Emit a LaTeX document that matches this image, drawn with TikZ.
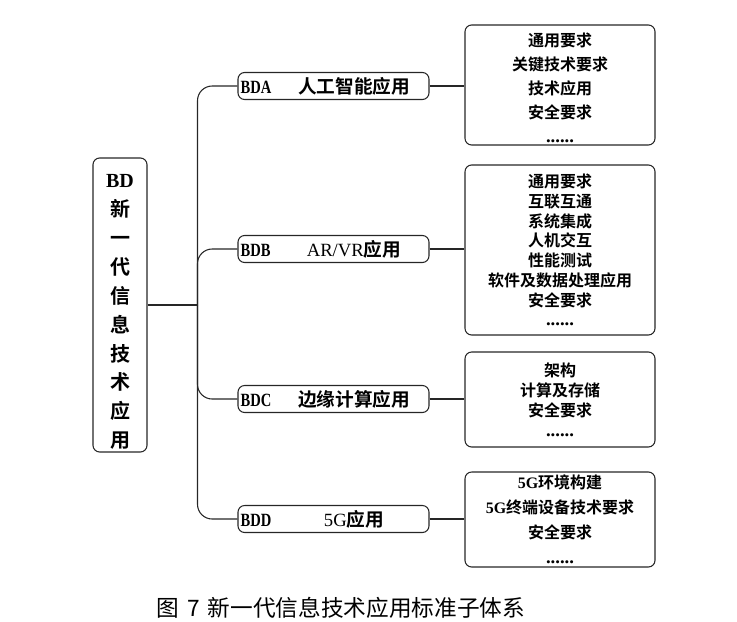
\documentclass[tikz,border=0pt]{standalone}
\usepackage{fontspec}
\usepackage{graphicx}
\setmainfont{Liberation Serif}
\newfontfamily\cjk{Noto Sans CJK SC}
\newfontfamily\cjkbf{Noto Sans CJK SC Bold}
\newcommand{\codetxt}[1]{\hspace{2pt}\scalebox{0.78}[1]{\fontsize{14}{16}\rmfamily\bfseries #1}}
\tikzset{
  frame/.style={draw=black!85, line width=0.8pt, rounded corners=5pt},
  rootbox/.style={frame, minimum width=40.5pt, minimum height=220.5pt, inner sep=0pt},
  roottext/.style={align=center, inner sep=0pt, font=\fontsize{15}{21.7}\cjkbf},
  branch/.style={frame, minimum width=143.25pt, minimum height=20.25pt, inner sep=0pt, font=\fontsize{14}{16}\cjkbf},
  leaf/.style={frame, minimum width=142.5pt, inner sep=0pt, align=center},
  link/.style={draw=black!85, line width=0.8pt},
}
\begin{document}
\begin{tikzpicture}[x=0.75pt, y=-0.75pt]
	\useasboundingbox (0,0) rectangle (737,621);
	% 根节点
	\node[rootbox] (root) at (120,305) {};
	\node[roottext] (rootlabel) at (120,312) {{\rmfamily\bfseries BD}\\新\\一\\代\\信\\息\\技\\术\\应\\用};
	\coordinate (hub) at (197.5,305);
	
	% 二级分支
	\node[branch] (bda) at (333.5,86) {\makebox[30.75pt][l]{\codetxt{BDA}}\makebox[112.5pt]{人工智能应用}};
	\node[branch] (bdb) at (333.5,249) {\makebox[30.75pt][l]{\codetxt{BDB}}\makebox[112.5pt]{{\rmfamily AR/VR}应用}};
	\node[branch] (bdc) at (333.5,399) {\makebox[30.75pt][l]{\codetxt{BDC}}\makebox[112.5pt]{边缘计算应用}};
	\node[branch] (bdd) at (333.5,519) {\makebox[30.75pt][l]{\codetxt{BDD}}\makebox[112.5pt]{{\rmfamily 5G}应用}};
	
	% 三级内容
	\node[leaf, minimum height=90pt, font=\fontsize{12}{18}\cjkbf] (itema) at (560,85)
		{\\[-4pt]通用要求\\关键技术要求\\技术应用\\安全要求\\{\rmfamily\bfseries\fontsize{14}{18}\selectfont ......}};
	\node[leaf, minimum height=127.5pt, font=\fontsize{12}{14.8}\cjkbf] (itemb) at (560,250)
		{通用要求\\互联互通\\系统集成\\人机交互\\性能测试\\软件及数据处理应用\\安全要求\\{\rmfamily\bfseries\fontsize{14}{14.8}\selectfont ......}};
	\node[leaf, minimum height=71.25pt, font=\fontsize{12}{15}\cjkbf] (itemc) at (560,399.5)
		{架构\\计算及存储\\安全要求\\{\rmfamily\bfseries\fontsize{14}{15}\selectfont ......}};
	\node[leaf, minimum height=71.25pt, font=\fontsize{12}{18.75}\cjkbf] (itemd) at (560,519.5)
		{{\rmfamily\bfseries 5G}环境构建\\{\rmfamily\bfseries 5G}终端设备技术要求\\安全要求\\{\rmfamily\bfseries\fontsize{14}{18.75}\selectfont ......}};
	
	% 连线
	\draw[link] (root.east) -- (hub);
	\draw[link, rounded corners=11pt] (hub) |- (bda.west);
	\draw[link, rounded corners=11pt] (hub) |- (bdb.west);
	\draw[link, rounded corners=11pt] (hub) |- (bdc.west);
	\draw[link, rounded corners=11pt] (hub) |- (bdd.west);
	\draw[link] (bda.east) -- (bda.east -| itema.west);
	\draw[link] (bdb.east) -- (bdb.east -| itemb.west);
	\draw[link] (bdc.east) -- (bdc.east -| itemc.west);
	\draw[link] (bdd.east) -- (bdd.east -| itemd.west);
	
	% 图题
	\node[font=\fontsize{17}{20}\cjk] (caption) at (341,608) {图\hspace{0.35em}7\hspace{0.35em}新一代信息技术应用标准子体系};
\end{tikzpicture}
\end{document}
